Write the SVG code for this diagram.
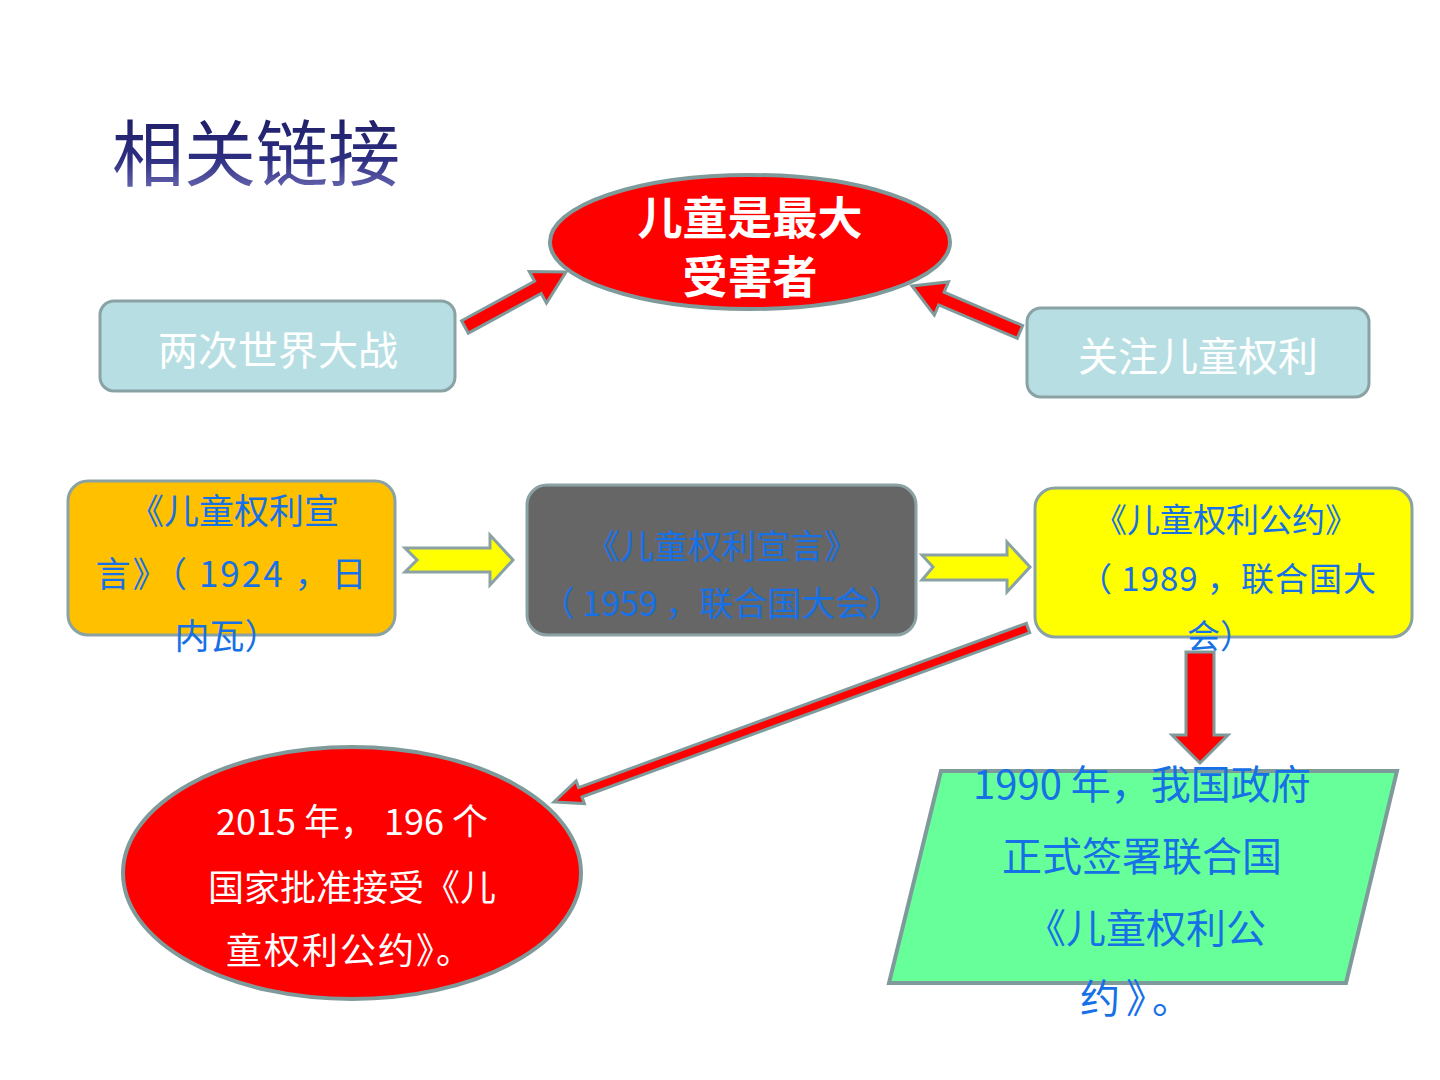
<svg xmlns="http://www.w3.org/2000/svg" width="1440" height="1080" viewBox="0 0 1440 1080">
<defs>
<linearGradient id="tg" x1="0" y1="0" x2="0" y2="1">
<stop offset="0" stop-color="#16165a"/>
<stop offset="0.6" stop-color="#2e2e82"/>
<stop offset="1" stop-color="#7a7ac0"/>
</linearGradient>
<style>
text{font-family:"Noto Sans CJK SC","Noto Sans",sans-serif;text-anchor:middle}
.box{stroke:#8aa2a4;stroke-width:3}
.arr{fill:#ff0000;stroke:#7f9a9a;stroke-width:3;stroke-linejoin:miter}
.yarr{fill:#ffff00;stroke:#8aa2a4;stroke-width:3}
.blue{fill:#1670e6}
.white{fill:#ffffff}
</style>
</defs>
<rect width="1440" height="1080" fill="#ffffff"/>
<text x="112" y="180" font-size="72" style="text-anchor:start" fill="url(#tg)">相关链接</text>

<g id="connectors">
<polygon class="arr" points="461.6,320.8 534.6,281.2 529.3,271.5 566,272 546.5,303.1 541.2,293.5 468.3,333.1"/>
<polygon class="arr" points="1022.7,325.6 944.1,292.1 948.5,281.9 912,286 934.3,315.1 938.7,304.9 1017.3,338.4"/>
<polygon class="yarr" points="405,548 490,548 490,535 513,560 490,585 490,572 405,572 417,560"/>
<polygon class="yarr" points="922,555 1007,555 1007,542 1030,567 1007,592 1007,580 922,580 933,567"/>
<polygon class="arr" points="1026.3,623.3 578.6,787.6 576.2,781.0 554,802 584.4,803.6 582.0,797.0 1029.7,632.7"/>
<polygon class="arr" points="1186,652 1214,652 1214,735 1228,735 1200,763 1172,735 1186,735"/>
</g>

<g id="node-top">
<ellipse cx="750" cy="242" rx="200" ry="67" fill="#ff0000" stroke="#7f9a9a" stroke-width="4"/>
<text x="750" y="235" font-size="45" font-weight="bold" class="white">儿童是最大</text>
<text x="750" y="294" font-size="45" font-weight="bold" class="white">受害者</text>
</g>

<g id="node-wars">
<rect class="box" x="100" y="301" width="355" height="90" rx="14" fill="#b7dfe3"/>
<text x="278" y="365" font-size="40" class="white">两次世界大战</text>
</g>

<g id="node-focus">
<rect class="box" x="1027" y="308" width="342" height="89" rx="14" fill="#b7dfe3"/>
<text x="1198" y="371" font-size="40" class="white">关注儿童权利</text>
</g>

<g id="node-1924">
<rect class="box" x="68" y="481" width="327" height="154" rx="20" fill="#ffc000"/>
<text x="234" y="524" font-size="35" class="blue">《儿童权利宣</text>
<text x="232" y="587" font-size="35" class="blue" letter-spacing="2">言》（ 1924 ，日</text>
<text x="227" y="649" font-size="35" class="blue">内瓦）</text>
</g>

<g id="node-1959">
<rect class="box" x="527" y="485" width="389" height="150" rx="20" fill="#666666"/>
<text x="722" y="559" font-size="34" class="blue">《儿童权利宣言》</text>
<text x="722" y="616" font-size="34" class="blue">（ 1959 ，联合国大会）</text>
</g>

<g id="node-1989">
<rect class="box" x="1035" y="488" width="377" height="149" rx="20" fill="#ffff00"/>
<text x="1226" y="532" font-size="33" class="blue">《儿童权利公约》</text>
<text x="1228" y="591" font-size="33" class="blue" letter-spacing="1">（ 1989 ，联合国大</text>
<text x="1220" y="648" font-size="33" class="blue">会）</text>
</g>

<g id="node-2015">
<ellipse cx="352" cy="873" rx="229" ry="126" fill="#ff0000" stroke="#7f9a9a" stroke-width="4"/>
<text x="352" y="835" font-size="36" class="white">2015 年， 196 个</text>
<text x="352" y="901" font-size="36" class="white">国家批准接受《儿</text>
<text x="350" y="964" font-size="36" class="white" letter-spacing="2">童权利公约》。</text>
</g>

<g id="node-1990">
<polygon points="941,771 1397,771 1346,983 889,983" fill="#66ff99" stroke="#7f9a9a" stroke-width="4"/>
<text x="1142" y="799" font-size="40" class="blue">1990 年，我国政府</text>
<text x="1142" y="871" font-size="40" class="blue">正式签署联合国</text>
<text x="1146" y="943" font-size="40" class="blue">《儿童权利公</text>
<text x="1139" y="1013" font-size="40" class="blue" letter-spacing="6">约》。</text>
</g>
</svg>
